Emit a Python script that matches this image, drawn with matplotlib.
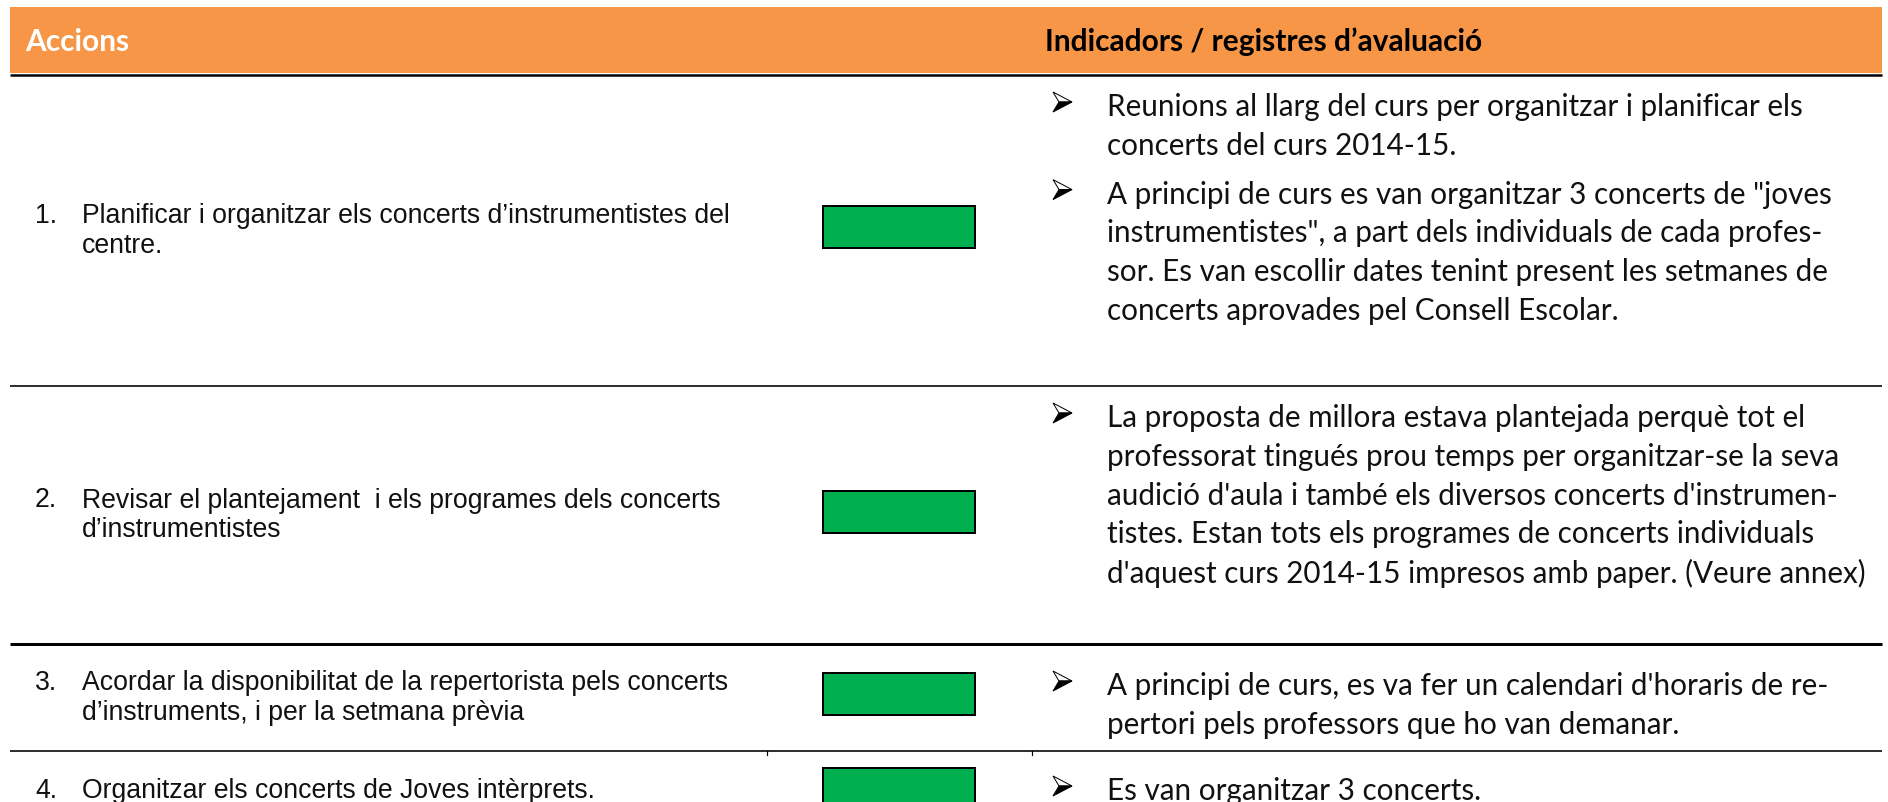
import matplotlib
matplotlib.use("Agg")
import matplotlib.pyplot as plt
from matplotlib.patches import Rectangle, Polygon

# ---------------- data ----------------
header_cols = ["Accions", "Indicadors / registres d’avaluació"]

actions = [
    "Planificar i organitzar els concerts d’instrumentistes del\ncentre.",
    "Revisar el plantejament  i els programes dels concerts\nd’instrumentistes",
    "Acordar la disponibilitat de la repertorista pels concerts\nd’instruments, i per la setmana prèvia",
    "Organitzar els concerts de Joves intèrprets.",
]

indicators = [
    ["Reunions al llarg del curs per organitzar i planificar els\nconcerts del curs 2014-15.",
     "A principi de curs es van organitzar 3 concerts de \"joves\ninstrumentistes\", a part dels individuals de cada profes-\nsor. Es van escollir dates tenint present les setmanes de\nconcerts aprovades pel Consell Escolar."],
    ["La proposta de millora estava plantejada perquè tot el\nprofessorat tingués prou temps per organitzar-se la seva\naudició d'aula i també els diversos concerts d'instrumen-\ntistes. Estan tots els programes de concerts individuals\nd'aquest curs 2014-15 impresos amb paper. (Veure annex)"],
    ["A principi de curs, es va fer un calendari d'horaris de re-\npertori pels professors que ho van demanar."],
    ["Es van organitzar 3 concerts."],
]

status_colors = ["#00B050", "#00B050", "#00B050", "#00B050"]

# ---------------- layout ----------------
W, H = 1888, 803
ORANGE = "#F79646"
fig = plt.figure(figsize=(W / 100, H / 100), dpi=100)
ax = fig.add_axes([0, 0, 1, 1])
ax.set_xlim(0, W)
ax.set_ylim(H, 0)
ax.axis("off")
renderer = fig.canvas.get_renderer()


def px(v):
    return v * 72.0 / 100.0


def fit_size(sample, target, **kw):
    t = ax.text(0, 0, sample, fontsize=20, **kw)
    w = t.get_window_extent(renderer).width
    t.remove()
    return 20.0 * target / w


def arrow_bullet(bx, yc, s=1.0):
    # Wingdings-style 3D arrowhead: outlined upper facet, filled lower facet
    top = (bx, yc - 10 * s)
    tip = (bx + 19 * s, yc)
    bot = (bx, yc + 10 * s)
    notch = (bx + 6 * s, yc)
    ax.add_patch(Polygon([top, tip, notch], closed=True, facecolor="white",
                         edgecolor="black", lw=px(1.0), joinstyle="miter"))
    ax.add_patch(Polygon([notch, tip, bot], closed=True, facecolor="black",
                         edgecolor="black", lw=px(1.0), joinstyle="miter"))


LEFT_FONT = "Liberation Sans"
RIGHT_FONT = "Lato"

fs_left = fit_size("Planificar i organitzar els concerts d’instrumentistes del", 648, family=LEFT_FONT)
fs_right = fit_size("Reunions al llarg del curs per organitzar i planificar els", 698, family=RIGHT_FONT)
fs_head = fit_size(header_cols[1], 438, family=RIGHT_FONT, fontweight="bold")

x0, x1 = 10, 1882
# header band
ax.add_patch(Rectangle((x0, 8), x1 - x0, 66, facecolor=ORANGE, edgecolor="none"))
ax.plot([x0, x1], [75.5, 75.5], color="black", lw=px(2.5), solid_capstyle="butt")
ax.text(25, 42, header_cols[0], family=RIGHT_FONT, fontweight="bold", fontsize=fs_head,
        color="white", va="center", ha="left")
ax.text(1045, 42, header_cols[1], family=RIGHT_FONT, fontweight="bold", fontsize=fs_head,
        color="black", va="center", ha="left")

# row boundaries
row_tops = [76, 387, 645, 752]
row_bottoms = [387, 645, 752, 835]
line_widths = [1.6, 3.0, 1.6]
for yb, lw in zip(row_bottoms[:-1], line_widths):
    ax.plot([x0, x1], [yb, yb], color="black", lw=px(lw), solid_capstyle="butt")
# tiny column stubs under the last divider
for xs in (767, 1032):
    ax.plot([xs, xs], [752, 756], color="black", lw=px(1.2))

right_pad = [31, 31, 41, 39]
LSP_R = 38.8
PARA_GAP = 10
LSP_L = 30

for i, (act, inds, col) in enumerate(zip(actions, indicators, status_colors)):
    top, bot = row_tops[i], row_bottoms[i]
    box_c = (top + bot) / 2 - 3.5
    bh = 42
    ax.add_patch(Rectangle((823, box_c - bh / 2), 152, bh, facecolor=col,
                           edgecolor="black", lw=px(2)))
    # left text
    lines = act.split("\n")
    tc = box_c + (3 if i < 3 else 1)
    start = tc - (len(lines) - 1) * LSP_L / 2
    ax.text(35, start, f"{i + 1}.", family=LEFT_FONT, fontsize=fs_left, va="center", ha="left",
            color="#111111")
    for k, ln in enumerate(lines):
        ax.text(82, start + k * LSP_L, ln, family=LEFT_FONT, fontsize=fs_left,
                va="center", ha="left", color="#111111")
    # right text
    y = top + right_pad[i]
    for p, para in enumerate(inds):
        if p > 0:
            y += PARA_GAP
        arrow_bullet(1053, y - 4)
        for ln in para.split("\n"):
            ax.text(1107, y, ln, family=RIGHT_FONT, fontsize=fs_right,
                    va="center", ha="left", color="#111111")
            y += LSP_R

fig.savefig("out.png", dpi=100, facecolor="white")
